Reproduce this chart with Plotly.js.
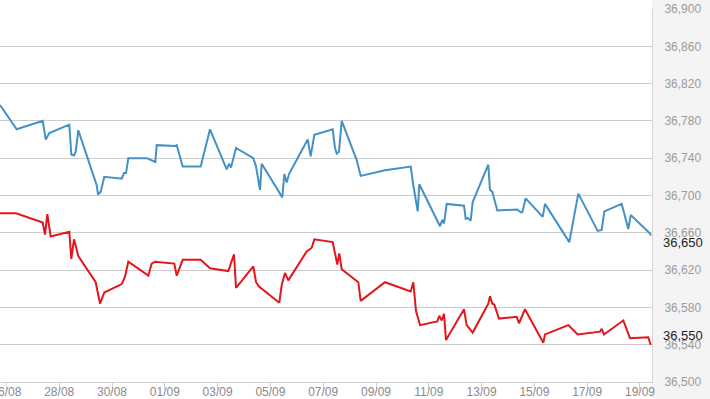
<!DOCTYPE html>
<html>
<head>
<meta charset="utf-8">
<script src="https://cdn.plot.ly/plotly-3.0.1.min.js"></script>
<style>html,body{margin:0;padding:0;background:#fff;}#chart{width:710px;height:399px;}</style>
</head>
<body>
<div id="chart"></div>
<script>
// Sell price (blue)
const blueTimes = ['2014-08-25 18:11','2014-08-26 09:22','2014-08-27 09:00','2014-08-27 11:44','2014-08-27 15:00','2014-08-27 17:11','2014-08-28 09:11','2014-08-28 11:00','2014-08-28 13:27','2014-08-28 15:00','2014-08-28 17:22','2014-08-29 01:00','2014-08-29 08:33','2014-08-29 10:05','2014-08-29 11:16','2014-08-29 13:44','2014-08-29 17:00','2014-08-30 08:49','2014-08-30 10:55','2014-08-30 12:44','2014-08-30 14:49','2014-08-31 07:33','2014-08-31 15:22','2014-08-31 16:38','2014-09-01 09:16','2014-09-01 10:49','2014-09-01 16:16','2014-09-02 08:38','2014-09-02 17:05','2014-09-03 08:16','2014-09-03 10:22','2014-09-03 12:11','2014-09-03 16:44','2014-09-04 08:27','2014-09-04 10:55','2014-09-04 14:33','2014-09-04 16:05','2014-09-05 10:49','2014-09-05 12:38','2014-09-05 14:49','2014-09-05 16:55','2014-09-06 09:55','2014-09-06 12:38','2014-09-06 15:55','2014-09-07 08:38','2014-09-07 10:44','2014-09-07 12:16','2014-09-07 14:22','2014-09-07 16:49','2014-09-08 06:27','2014-09-08 10:05','2014-09-09 08:11','2014-09-10 07:33','2014-09-10 09:55','2014-09-10 13:55','2014-09-10 15:22','2014-09-11 10:11','2014-09-11 12:16','2014-09-11 13:49','2014-09-11 16:16','2014-09-12 08:00','2014-09-12 09:33','2014-09-12 11:22','2014-09-12 14:05','2014-09-12 15:55','2014-09-13 06:05','2014-09-13 07:38','2014-09-13 09:44','2014-09-13 14:16','2014-09-14 08:27','2014-09-14 11:33','2014-09-14 13:00','2014-09-14 16:05','2014-09-15 07:33','2014-09-15 09:38','2014-09-16 07:44','2014-09-16 15:55','2014-09-17 09:33','2014-09-17 13:11','2014-09-17 15:33','2014-09-18 07:22','2014-09-18 13:22','2014-09-18 15:33','2014-09-19 08:27','2014-09-19 10:00'];
const blueValues = [36797,36771,36780,36760,36767,36768,36776,36744,36743,36747,36770,36743,36718,36711,36701,36704,36720,36718,36724,36724,36740,36740,36736,36754,36753,36754,36731,36731,36771,36728,36734,36730,36751,36740,36731,36706,36734,36698,36723,36714,36723,36760,36742,36765,36771,36751,36745,36747,36780,36738,36721,36727,36731,36711,36683,36712,36667,36674,36670,36691,36689,36675,36676,36673,36693,36733,36706,36704,36684,36685,36682,36682,36697,36677,36691,36650,36702,36662,36663,36683,36691,36664,36679,36660,36657];

// Buy price (red)
const redTimes = ['2014-08-25 18:11','2014-08-26 08:44','2014-08-27 09:00','2014-08-27 11:05','2014-08-27 13:11','2014-08-27 16:16','2014-08-28 09:11','2014-08-28 11:00','2014-08-28 13:27','2014-08-28 17:22','2014-08-29 09:11','2014-08-29 13:05','2014-08-29 17:00','2014-08-30 08:49','2014-08-30 11:49','2014-08-30 14:49','2014-08-31 09:00','2014-08-31 12:05','2014-08-31 15:05','2014-09-01 08:38','2014-09-01 10:49','2014-09-01 16:16','2014-09-02 08:38','2014-09-02 17:05','2014-09-03 09:44','2014-09-03 14:55','2014-09-03 16:44','2014-09-04 08:27','2014-09-04 10:55','2014-09-04 13:55','2014-09-05 08:05','2014-09-05 10:16','2014-09-05 13:16','2014-09-05 16:16','2014-09-06 09:00','2014-09-06 13:33','2014-09-06 15:55','2014-09-07 08:38','2014-09-07 12:49','2014-09-07 14:38','2014-09-07 16:49','2014-09-08 07:55','2014-09-08 10:05','2014-09-09 08:11','2014-09-10 07:33','2014-09-10 09:55','2014-09-10 12:22','2014-09-10 16:00','2014-09-11 07:44','2014-09-11 09:33','2014-09-11 11:44','2014-09-11 13:49','2014-09-11 15:38','2014-09-12 08:00','2014-09-12 10:27','2014-09-12 15:55','2014-09-13 06:05','2014-09-13 07:38','2014-09-13 09:44','2014-09-13 11:33','2014-09-13 15:49','2014-09-14 07:55','2014-09-14 10:00','2014-09-14 15:27','2014-09-15 08:05','2014-09-15 09:38','2014-09-16 06:49','2014-09-16 15:22','2014-09-17 11:38','2014-09-17 13:11','2014-09-17 15:16','2014-09-18 08:49','2014-09-18 14:55','2014-09-19 07:33','2014-09-19 09:44'];
const redValues = [36681,36681,36671,36658,36680,36656,36661,36632,36653,36635,36607,36584,36596,36605,36613,36629,36614,36627,36629,36627,36614,36631,36631,36622,36619,36637,36601,36624,36607,36602,36585,36604,36617,36609,36640,36644,36653,36650,36626,36638,36621,36607,36587,36607,36597,36607,36576,36561,36565,36571,36566,36573,36545,36578,36561,36553,36584,36592,36584,36583,36568,36570,36563,36578,36542,36551,36561,36551,36554,36557,36551,36566,36547,36548,36540];

// Axis ticks and current-price labels
const xTickDates = ['2014-08-26','2014-08-28','2014-08-30','2014-09-01','2014-09-03','2014-09-05','2014-09-07','2014-09-09','2014-09-11','2014-09-13','2014-09-15','2014-09-17','2014-09-19'];
const xTickLabels = ['26/08','28/08','30/08','01/09','03/09','05/09','07/09','09/09','11/09','13/09','15/09','17/09','19/09'];
const xRange = ['2014-08-25 18:10','2014-09-19 10:55'];
const yRange = [36500, 36900];
const yStep = 40;
const lastPrices = [36650, 36550];
const lastColors = ['#222', '#222'];

const traces = [
  {x: blueTimes, y: blueValues, type: 'scatter', mode: 'lines',
   line: {color: '#4491c6', width: 2}, hoverinfo: 'skip'},
  {x: redTimes, y: redValues, type: 'scatter', mode: 'lines',
   line: {color: '#e3161b', width: 2}, hoverinfo: 'skip'}
];

const fontFam = 'Liberation Sans, Arial, sans-serif';
const layout = {
  width: 710, height: 399,
  margin: {l: 0, r: 58, t: 9, b: 17, pad: 0},
  paper_bgcolor: '#ffffff',
  plot_bgcolor: '#ffffff',
  showlegend: false,
  xaxis: {
    type: 'date', range: xRange,
    tickvals: xTickDates, ticktext: xTickLabels,
    tickfont: {family: fontFam, size: 12, color: '#8a8a8a'},
    showgrid: false, zeroline: false,
    showline: true, linecolor: '#cfcfcf', linewidth: 1,
    ticks: 'outside', ticklen: 7, tickcolor: '#d0d0d0',
    ticklabelstandoff: -8,
    ticklabeloverflow: 'allow',
    fixedrange: true
  },
  yaxis: {
    side: 'right', range: yRange, dtick: yStep, tick0: yRange[0],
    tickformat: ',d',
    tickfont: {family: fontFam, size: 12, color: '#9a9a9a'},
    showgrid: true, gridcolor: '#cccccc', gridwidth: 1,
    zeroline: false,
    showline: true, linecolor: '#d5d5d5', linewidth: 1,
    ticks: '', ticklabelstandoff: 9,
    fixedrange: true
  },
  shapes: [
    {type: 'rect', xref: 'paper', yref: 'paper', x0: 1, x1: 1.1, y0: -0.06, y1: 1.05,
     fillcolor: '#f4f4f4', line: {width: 0}, layer: 'below'}
  ],
  annotations: lastPrices.map((v, i) => ({
    xref: 'paper', yref: 'y', x: 1, y: v, xanchor: 'left', yanchor: 'middle',
    xshift: 9, showarrow: false,
    text: v.toLocaleString('en-US'),
    font: {family: fontFam, size: 13, color: lastColors[i]}
  }))
};

Plotly.newPlot('chart', traces, layout, {displayModeBar: false, staticPlot: true});
</script>
</body>
</html>
